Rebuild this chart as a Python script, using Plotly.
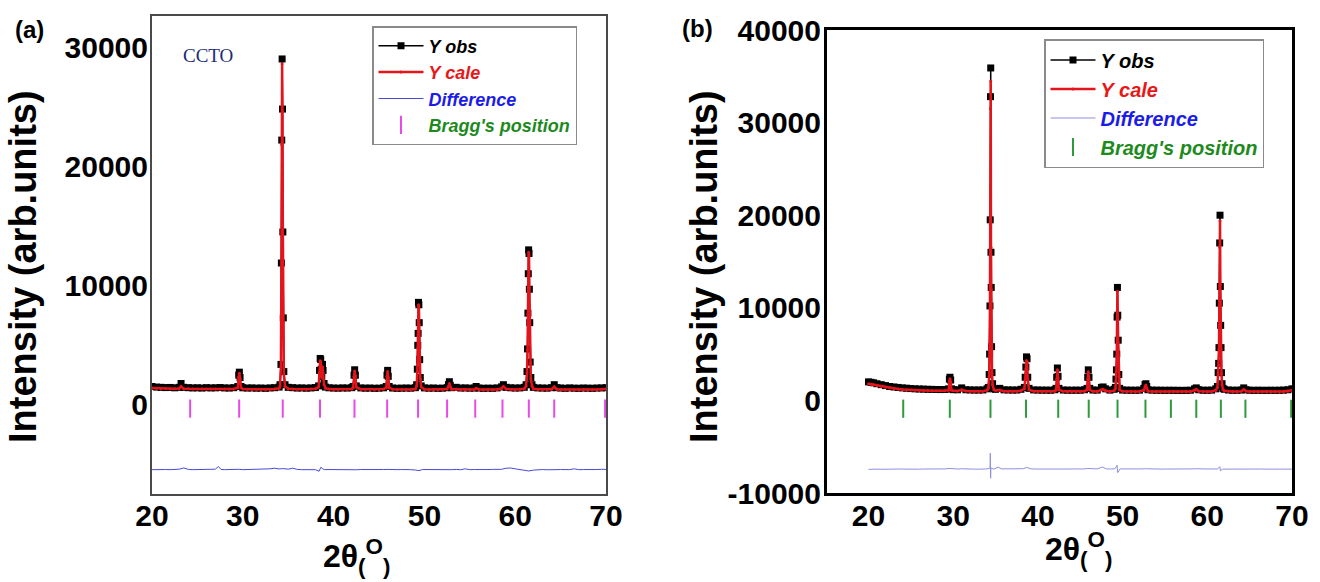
import plotly.graph_objects as go

W, H = 1320, 582

# ---------------- Panel (a) data ----------------
x_a = [
    20.0, 20.5, 21.0, 21.5, 22.0, 22.5, 23.0, 23.2, 23.5, 24.0,
    24.5, 25.0, 25.5, 26.0, 26.5, 27.0, 27.5, 28.0, 28.5, 29.0,
    29.45, 29.55, 29.62, 29.70, 29.80,
    30.0, 30.5, 31.0, 31.5, 32.0, 32.5, 33.0, 33.5, 34.0,
    34.10, 34.20, 34.25, 34.29, 34.33, 34.37, 34.41, 34.46, 34.52, 34.65,
    35.0, 35.5, 36.0, 36.5, 37.0, 37.5, 38.0,
    38.35, 38.45, 38.52, 38.58, 38.64, 38.70, 38.78, 38.84, 38.95, 39.10,
    39.5, 40.0, 40.5, 41.0, 41.5, 42.0,
    42.15, 42.25, 42.32, 42.40, 42.50,
    43.0, 43.5, 44.0, 44.5, 45.0, 45.5,
    45.80, 45.88, 45.95, 46.02, 46.12,
    46.5, 47.0, 47.5, 48.0, 48.5, 49.0,
    49.15, 49.22, 49.27, 49.31, 49.35, 49.39, 49.43, 49.48, 49.55, 49.65,
    50.0, 50.5, 51.0, 51.5, 52.0, 52.5,
    52.65, 52.75, 52.85,
    53.0, 53.5, 54.0, 54.5, 55.0, 55.5, 55.7, 56.0, 56.5, 57.0,
    57.5, 58.0, 58.5, 58.7, 59.0, 59.5, 60.0, 60.5, 61.0,
    61.20, 61.30, 61.36, 61.40, 61.44, 61.48, 61.52, 61.56, 61.60, 61.65, 61.72, 61.85,
    62.0, 62.5, 63.0, 63.5, 64.0, 64.3, 64.6, 65.0, 65.5, 66.0,
    66.5, 67.0, 67.5, 68.0, 68.5, 69.0, 69.5, 70.0,
]
obs_a = [
    1550, 1500, 1480, 1460, 1470, 1440, 1480, 1800, 1480, 1450,
    1430, 1440, 1420, 1450, 1430, 1440, 1460, 1430, 1420, 1450,
    1550, 2500, 2750, 2300, 1550,
    1440, 1420, 1430, 1410, 1420, 1400, 1430, 1450, 1500,
    1700, 3400, 11900, 22200, 29000, 24800, 14500, 7300, 2800, 1700,
    1480, 1450, 1420, 1430, 1410, 1430, 1460,
    1600, 2900, 3900, 3800, 3000, 2400, 3400, 2900, 1800, 1500,
    1440, 1420, 1410, 1430, 1420, 1450,
    1550, 2500, 2950, 2500, 1600,
    1430, 1410, 1420, 1400, 1410, 1440,
    1550, 2500, 2900, 2400, 1550,
    1420, 1400, 1410, 1420, 1410, 1450,
    1700, 3000, 5000, 6000, 8600, 8400, 6900, 3800, 2300, 1600,
    1430, 1410, 1420, 1400, 1410, 1450,
    1700, 1950, 1650,
    1450, 1480, 1420, 1430, 1410, 1420, 1550, 1420, 1400, 1410,
    1400, 1430, 1520, 1700, 1480, 1440, 1420, 1430, 1480,
    1700, 2800, 4700, 7700, 11000, 13000, 12700, 9700, 6900, 3600, 2300, 1700,
    1480, 1430, 1420, 1410, 1450, 1700, 1450, 1420, 1400, 1430,
    1410, 1400, 1420, 1410, 1400, 1420, 1430, 1450,
]
calc_a = [
    1420, 1400, 1390, 1380, 1370, 1360, 1380, 1550, 1370, 1360,
    1350, 1350, 1340, 1340, 1340, 1340, 1340, 1330, 1330, 1340,
    1450, 2350, 2650, 2200, 1450,
    1330, 1320, 1320, 1310, 1310, 1310, 1320, 1340, 1400,
    1600, 3200, 11500, 21800, 28600, 24600, 14800, 7000, 2600, 1550,
    1370, 1340, 1320, 1320, 1310, 1330, 1360,
    1500, 2700, 3700, 3600, 2900, 2300, 3200, 2700, 1700, 1400,
    1330, 1320, 1310, 1310, 1310, 1340,
    1450, 2400, 2850, 2400, 1500,
    1320, 1310, 1310, 1300, 1300, 1330,
    1450, 2400, 2800, 2300, 1450,
    1310, 1300, 1300, 1300, 1300, 1340,
    1600, 2800, 4800, 5900, 8400, 8300, 6700, 3700, 2200, 1500,
    1320, 1300, 1300, 1290, 1300, 1330,
    1550, 1800, 1550,
    1320, 1310, 1300, 1300, 1290, 1300, 1400, 1300, 1290, 1290,
    1290, 1300, 1390, 1550, 1350, 1310, 1300, 1310, 1360,
    1600, 2700, 4600, 7600, 10800, 12800, 12600, 9800, 7000, 3500, 2200, 1600,
    1360, 1310, 1300, 1300, 1320, 1520, 1320, 1300, 1290, 1300,
    1290, 1290, 1290, 1290, 1290, 1300, 1310, 1330,
]
x_diff_a = [
    20.0, 20.5, 21.0, 21.5, 22.0, 22.5, 23.0, 23.5, 24.0, 24.5,
    25.0, 25.5, 26.0, 26.5, 27.0, 27.3, 27.6, 28.0, 28.5, 29.0,
    29.5, 30.0, 30.5, 31.0, 31.5, 32.0, 32.5, 33.0, 33.5, 34.0,
    34.4, 35.0, 35.5, 36.0, 36.5, 37.0, 37.5, 38.0, 38.4, 38.6,
    38.8, 39.0, 39.5, 40.0, 40.5, 41.0, 41.5, 42.0, 42.5, 43.0,
    43.5, 44.0, 44.5, 45.0, 45.5, 46.0, 46.5, 47.0, 47.5, 48.0,
    48.5, 49.0, 49.4, 49.8, 50.5, 51.0, 51.5, 52.0, 52.5, 53.0,
    53.5, 54.0, 54.5, 55.0, 55.5, 56.0, 56.5, 57.0, 57.5, 58.0,
    58.5, 59.0, 59.5, 60.0, 60.5, 61.0, 61.5, 62.0, 62.5, 63.0,
    63.5, 64.0, 64.5, 65.0, 65.5, 66.0, 66.5, 67.0, 67.5, 68.0,
    68.5, 69.0, 69.5, 70.0,
]
diff_a = [
    -5420, -5400, -5430, -5410, -5420, -5400, -5380, -5280, -5400, -5420,
    -5410, -5430, -5400, -5420, -5380, -5150, -5400, -5420, -5400, -5410,
    -5390, -5420, -5410, -5430, -5420, -5410, -5400, -5350, -5300, -5360,
    -5330, -5380, -5300, -5400, -5420, -5410, -5430, -5420, -5550, -5220,
    -5350, -5420, -5410, -5420, -5430, -5410, -5420, -5400, -5430, -5410,
    -5420, -5400, -5430, -5420, -5410, -5400, -5430, -5420, -5410, -5400,
    -5420, -5450, -5500, -5410, -5420, -5400, -5430, -5380, -5410, -5420,
    -5400, -5430, -5350, -5420, -5410, -5430, -5420, -5410, -5400, -5380,
    -5390, -5300, -5280, -5350, -5420, -5450, -5530, -5460, -5420, -5410,
    -5430, -5400, -5420, -5410, -5430, -5420, -5350, -5420, -5410, -5430,
    -5400, -5410, -5390, -5400,
]
bragg_a = [24.2, 29.6, 34.4, 38.5, 42.3, 45.9, 49.3, 52.5, 55.6, 58.6, 61.5, 64.3, 69.9]

# ---------------- Panel (b) data ----------------
x_b = [
    20.0, 20.3, 20.6, 21.0, 21.5, 22.0, 22.5, 23.0, 23.5, 24.0,
    24.5, 25.0, 25.5, 26.0, 26.5, 27.0, 27.5, 28.0, 28.5, 29.0,
    29.45, 29.55, 29.62, 29.70, 29.80,
    30.0, 30.5, 31.0, 31.5, 32.0, 32.5, 33.0, 33.5, 34.0,
    34.15, 34.25, 34.30, 34.34, 34.37, 34.40, 34.43, 34.46, 34.49, 34.53, 34.58, 34.65, 34.80,
    35.0, 35.5, 36.0, 36.5, 37.0, 37.5, 38.0,
    38.40, 38.50, 38.58, 38.65, 38.72, 38.80, 38.95,
    39.5, 40.0, 40.5, 41.0, 41.5, 42.0,
    42.15, 42.22, 42.30, 42.38, 42.48,
    43.0, 43.5, 44.0, 44.5, 45.0, 45.5,
    45.80, 45.88, 45.95, 46.03, 46.12,
    46.5, 47.0, 47.5, 47.7, 48.0, 48.5, 49.0,
    49.15, 49.22, 49.27, 49.31, 49.35, 49.39, 49.43, 49.48, 49.55, 49.65,
    50.0, 50.5, 51.0, 51.5, 52.0, 52.5,
    52.65, 52.75, 52.85,
    53.0, 53.5, 54.0, 54.5, 55.0, 55.5, 56.0, 56.5, 57.0, 57.5,
    58.0, 58.5, 58.7, 59.0, 59.5, 60.0, 60.5, 61.0,
    61.20, 61.28, 61.34, 61.38, 61.42, 61.46, 61.50, 61.54, 61.58, 61.62, 61.67, 61.74, 61.85,
    62.0, 62.5, 63.0, 63.5, 64.0, 64.3, 64.6, 65.0, 65.5, 66.0,
    66.5, 67.0, 67.5, 68.0, 68.5, 69.0, 69.5, 70.0,
]
obs_b = [
    2000, 1950, 1900, 1800, 1700, 1600, 1500, 1450, 1400, 1350,
    1320, 1280, 1250, 1230, 1220, 1200, 1190, 1180, 1170, 1180,
    1250, 2300, 2500, 2200, 1250,
    1160, 1150, 1350, 1150, 1130, 1120, 1120, 1130, 1250,
    1400, 2800, 5000, 10200, 19500, 32800, 35900, 16000, 12200, 5800, 3000, 1800, 1250,
    1200, 1300, 1140, 1130, 1120, 1120, 1200,
    1400, 2500, 3600, 4700, 4500, 2500, 1300,
    1130, 1120, 1110, 1110, 1100, 1150,
    1300, 2500, 3500, 2600, 1300,
    1120, 1110, 1100, 1110, 1100, 1150,
    1300, 2500, 3300, 2500, 1300,
    1120, 1110, 1400, 1450, 1250, 1110, 1200,
    1400, 2300, 3300, 5000, 9000, 12200, 9200, 6500, 2800, 1300,
    1120, 1110, 1100, 1100, 1110, 1300,
    1700, 1800, 1500,
    1150, 1110, 1100, 1100, 1090, 1100, 1090, 1090, 1080, 1090,
    1100, 1250, 1350, 1150, 1100, 1100, 1110, 1250,
    1500, 3000, 4000, 5700, 10500, 17000, 20000, 12300, 8100, 5700, 3000, 1800, 1300,
    1200, 1120, 1100, 1100, 1120, 1350, 1150, 1100, 1090, 1100,
    1090, 1090, 1100, 1090, 1100, 1110, 1150, 1250,
]
calc_b = [
    1800, 1750, 1700, 1620, 1520, 1420, 1340, 1280, 1230, 1190,
    1160, 1130, 1100, 1080, 1070, 1060, 1050, 1040, 1030, 1040,
    1100, 2100, 2350, 2000, 1100,
    1030, 1020, 1150, 1010, 1000, 990, 990, 1000, 1100,
    1300, 2600, 4800, 10000, 19000, 31500, 34500, 16500, 12000, 5600, 2900, 1700, 1150,
    1060, 1120, 1000, 990, 980, 980, 1050,
    1250, 2300, 3400, 4300, 4200, 2300, 1150,
    990, 980, 970, 970, 960, 1000,
    1150, 2300, 3300, 2400, 1150,
    980, 970, 960, 970, 960, 1000,
    1150, 2300, 3100, 2300, 1150,
    980, 970, 1150, 1200, 1050, 970, 1050,
    1250, 2100, 3100, 4800, 8700, 11800, 9000, 6300, 2600, 1150,
    980, 970, 960, 960, 970, 1100,
    1500, 1650, 1300,
    1000, 970, 960, 960, 950, 960, 950, 950, 940, 950,
    960, 1100, 1200, 1000, 960, 960, 970, 1100,
    1400, 2800, 3800, 5500, 10000, 16500, 19400, 12500, 8300, 5500, 2900, 1700, 1150,
    1050, 980, 960, 960, 980, 1180, 1000, 960, 950, 960,
    950, 950, 960, 950, 960, 970, 1000, 1100,
]
x_diff_b = [
    20.0, 20.5, 21.0, 21.5, 22.0, 22.5, 23.0, 23.5, 24.0, 24.5,
    25.0, 25.5, 26.0, 26.5, 27.0, 27.5, 28.0, 28.5, 29.0, 29.5,
    30.0, 30.5, 31.0, 31.5, 32.0, 32.5, 33.0, 33.5, 34.0, 34.35,
    34.38, 34.42, 34.45, 34.8, 35.3, 35.7, 36.2, 36.7, 37.2, 37.7,
    38.2, 38.7, 39.2, 39.7, 40.2, 40.7, 41.2, 41.7, 42.3, 42.8,
    43.3, 43.8, 44.3, 44.8, 45.3, 45.9, 46.5, 47.0, 47.6, 48.1,
    48.6, 49.1, 49.35, 49.42, 49.7, 50.2, 50.7, 51.2, 51.7, 52.2,
    52.7, 53.2, 53.7, 54.2, 54.7, 55.2, 55.7, 56.2, 56.7, 57.2,
    57.7, 58.2, 58.7, 59.2, 59.7, 60.2, 60.7, 61.2, 61.48, 61.55,
    61.8, 62.3, 62.8, 63.3, 63.8, 64.3, 64.8, 65.3, 65.8, 66.3,
    66.8, 67.3, 67.8, 68.3, 68.8, 69.3, 70.0,
]
diff_b = [
    -7450, -7400, -7420, -7440, -7410, -7430, -7420, -7410, -7430, -7420,
    -7410, -7420, -7430, -7410, -7420, -7430, -7410, -7420, -7400, -7350,
    -7420, -7410, -7380, -7420, -7410, -7420, -7430, -7410, -7400, -7300,
    -5700, -8400, -7300, -7420, -7200, -7400, -7410, -7420, -7410, -7400,
    -7380, -7250, -7400, -7410, -7420, -7400, -7410, -7420, -7380, -7410,
    -7420, -7410, -7400, -7420, -7410, -7350, -7410, -7400, -7200, -7400,
    -7410, -7380, -7000, -7800, -7400, -7410, -7420, -7410, -7420, -7400,
    -7380, -7410, -7420, -7410, -7420, -7410, -7420, -7410, -7420, -7410,
    -7420, -7400, -7380, -7410, -7420, -7410, -7400, -7420, -7150, -7600,
    -7420, -7410, -7420, -7410, -7420, -7400, -7420, -7410, -7420, -7410,
    -7420, -7410, -7420, -7410, -7420, -7410, -7420,
]
bragg_b = [24.1, 29.6, 34.4, 38.6, 42.4, 46.0, 49.4, 52.7, 55.7, 58.7, 61.6, 64.5, 69.9]

x_ticks = [20, 30, 40, 50, 60, 70]
y_ticks_a = [0, 10000, 20000, 30000]
y_ticks_b = [-10000, 0, 10000, 20000, 30000, 40000]

# ---------------- Styling ----------------
SANS = "Liberation Sans, Arial, sans-serif"
TICK_FONT = dict(family=SANS, size=30, color="black", weight="bold")

C_OBS = "#000000"
C_CALC = "#e3141b"
C_DIFF_A = "#4a4ad6"
C_DIFF_B = "#8e90e0"
C_BRAGG_A = "#e84ae8"
C_BRAGG_B = "#2f9a3c"

def px2x(p):
    return p / W

def px2y(p):
    return 1 - p / H

def names(c_obs, c_calc, c_diff, c_bragg):
    return [
        f"<span style='color:{c_obs}'>Y obs</span>",
        f"<span style='color:{c_calc}'>Y cale</span>",
        f"<span style='color:{c_diff}'>Difference</span>",
        f"<span style='color:{c_bragg}'>Bragg's position</span>",
    ]

fig = go.Figure()

def add_panel(xax, yax, legend, x, obs, calc, xd, diff, bragg, bragg_y, c_diff, c_bragg, msize, legend_names):
    n_obs, n_calc, n_diff, n_bragg = legend_names
    fig.add_trace(go.Scatter(x=xd, y=diff, mode="lines", name=n_diff,
                             line=dict(color=c_diff, width=1), xaxis=xax, yaxis=yax,
                             legend=legend, legendrank=3))
    fig.add_trace(go.Scatter(x=bragg, y=[bragg_y] * len(bragg), mode="markers", name=n_bragg,
                             marker=dict(symbol="line-ns", size=13, line=dict(color=c_bragg, width=2)),
                             xaxis=xax, yaxis=yax, legend=legend, legendrank=4))
    fig.add_trace(go.Scatter(x=x, y=obs, mode="lines+markers", name=n_obs,
                             line=dict(color=C_OBS, width=1.5),
                             marker=dict(symbol="square", size=msize, color=C_OBS),
                             xaxis=xax, yaxis=yax, legend=legend, legendrank=1))
    fig.add_trace(go.Scatter(x=x, y=calc, mode="lines+markers", name=n_calc,
                             line=dict(color=C_CALC, width=2.5),
                             marker=dict(symbol="circle", size=3, color=C_CALC),
                             xaxis=xax, yaxis=yax, legend=legend, legendrank=2))

add_panel("x", "y", "legend", x_a, obs_a, calc_a, x_diff_a, diff_a, bragg_a, -300,
          C_DIFF_A, C_BRAGG_A, 7, names(C_OBS, "#e81818", "#1c1ce8", "#1e8a1e"))
add_panel("x2", "y2", "legend2", x_b, obs_b, calc_b, x_diff_b, diff_b, bragg_b, -900,
          C_DIFF_B, C_BRAGG_B, 7, names(C_OBS, "#e81818", "#1c1ce8", "#1e8a1e"))

axis_common = dict(showgrid=False, zeroline=False, ticks="", mirror=True, showline=True,
                   tickfont=TICK_FONT, automargin=False)

fig.update_layout(
    width=W, height=H,
    margin=dict(l=0, r=0, t=0, b=0, autoexpand=False),
    paper_bgcolor="white", plot_bgcolor="white",
    xaxis=dict(domain=[px2x(152), px2x(606)], range=[20, 70],
               tickvals=x_ticks, ticktext=[str(v) for v in x_ticks], ticklabelstandoff=-6,
               anchor="y", linecolor="#4a4a4a", linewidth=2, **axis_common),
    yaxis=dict(domain=[px2y(494), px2y(16)], range=[-7460, 32600],
               tickvals=y_ticks_a, ticktext=[str(v) for v in y_ticks_a], ticklabelstandoff=-4,
               anchor="x", linecolor="#4a4a4a", linewidth=2, **axis_common),
    xaxis2=dict(domain=[px2x(827), px2x(1292)], range=[15.1, 70],
                tickvals=x_ticks, ticktext=[str(v) for v in x_ticks], ticklabelstandoff=-6,
                anchor="y2", linecolor="black", linewidth=3, **axis_common),
    yaxis2=dict(domain=[px2y(493), px2y(30)], range=[-10000, 40000],
                tickvals=y_ticks_b, ticktext=[str(v) for v in y_ticks_b], ticklabelstandoff=-3,
                anchor="x2", linecolor="black", linewidth=3, **axis_common),
    legend=dict(x=px2x(372), y=px2y(26), xanchor="left", yanchor="top",
                bgcolor="white", bordercolor="#8a8a8a", borderwidth=1.5,
                font=dict(family=SANS, size=18, weight="bold", style="italic"),
                itemwidth=45, traceorder="normal"),
    legend2=dict(x=px2x(1044), y=px2y(39), xanchor="left", yanchor="top",
                 bgcolor="white", bordercolor="#8a8a8a", borderwidth=1.5,
                 font=dict(family=SANS, size=20, weight="bold", style="italic"),
                 itemwidth=45, traceorder="normal"),
    showlegend=True,
)

ann = []
ytitle = "Intensity (arb.units)"
xtitle = "2θ<sub>(</sub><sup>O</sup><sub>)</sub>"
ann.append(dict(text=ytitle, x=px2x(23), y=px2y(267), textangle=-90, showarrow=False,
                xref="paper", yref="paper", xanchor="center", yanchor="middle",
                font=dict(family=SANS, size=38, color="black", weight="bold")))
ann.append(dict(text=ytitle, x=px2x(704), y=px2y(267), textangle=-90, showarrow=False,
                xref="paper", yref="paper", xanchor="center", yanchor="middle",
                font=dict(family=SANS, size=38, color="black", weight="bold")))
ann.append(dict(text=xtitle, x=px2x(356), y=px2y(581), showarrow=False,
                xref="paper", yref="paper", xanchor="center", yanchor="bottom",
                font=dict(family=SANS, size=32, color="black", weight="bold")))
ann.append(dict(text=xtitle, x=px2x(1078), y=px2y(574), showarrow=False,
                xref="paper", yref="paper", xanchor="center", yanchor="bottom",
                font=dict(family=SANS, size=32, color="black", weight="bold")))
ann.append(dict(text="(a)", x=px2x(29), y=px2y(29), showarrow=False,
                xref="paper", yref="paper", xanchor="center", yanchor="middle",
                font=dict(family=SANS, size=24, color="black", weight="bold")))
ann.append(dict(text="(b)", x=px2x(697), y=px2y(28), showarrow=False,
                xref="paper", yref="paper", xanchor="center", yanchor="middle",
                font=dict(family=SANS, size=24, color="black", weight="bold")))
ann.append(dict(text="CCTO", x=px2x(208), y=px2y(56), showarrow=False,
                xref="paper", yref="paper", xanchor="center", yanchor="middle",
                font=dict(family="Liberation Serif, Times New Roman, serif", size=19, color="#1c2a78")))
fig.update_layout(annotations=ann)

fig.write_html("out.html")
